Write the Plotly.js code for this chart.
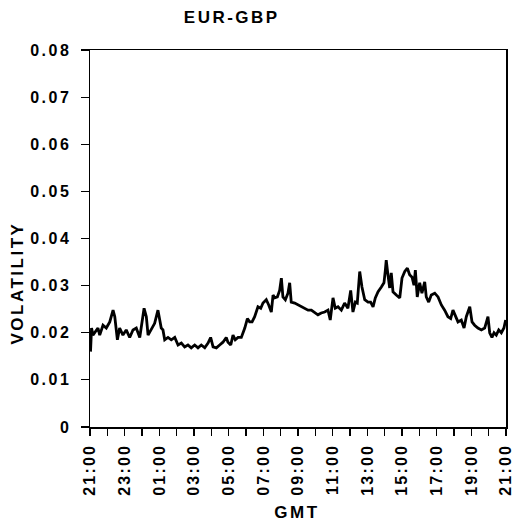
<!DOCTYPE html>
<html>
<head>
<meta charset="utf-8">
<script src="https://cdn.plot.ly/plotly-3.0.1.min.js"></script>
<style>
  html, body { margin: 0; padding: 0; background: #fff; }
  #chart { width: 515px; height: 522px; }
  .main-svg text { letter-spacing: 2.5px; }
  .main-svg .xtick text { letter-spacing: 2.2px; }
</style>
</head>
<body>
<div id="chart"></div>
<script>
// Hours elapsed since 21:00 GMT
var hoursFromStart = [
  0.03, 0.09, 0.17, 0.27, 0.46, 0.56, 0.75, 0.94, 1.14, 1.33, 1.43, 1.58, 1.71, 1.90,
  2.09, 2.29, 2.48, 2.67, 2.87, 3.12, 3.25, 3.35, 3.54, 3.73, 3.92, 4.11, 4.21, 4.31,
  4.50, 4.69, 4.89, 5.08, 5.27, 5.46, 5.65, 5.84, 6.04, 6.23, 6.42, 6.62, 6.81, 6.96,
  7.10, 7.29, 7.48, 7.67, 7.86, 7.96, 8.12, 8.25, 8.38, 8.54, 8.73, 8.93, 9.08, 9.21,
  9.35, 9.50, 9.69, 9.85, 9.98, 10.17, 10.31, 10.46, 10.56, 10.66, 10.81, 10.94, 11.04,
  11.13, 11.27, 11.42, 11.52, 11.61, 11.81, 12.00, 12.19, 12.39, 12.58, 12.77, 12.96,
  13.15, 13.34, 13.54, 13.73, 13.86, 14.02, 14.15, 14.31, 14.50, 14.69, 14.88, 15.04,
  15.17, 15.31, 15.42, 15.56, 15.69, 15.85, 16.04, 16.19, 16.33, 16.46, 16.62, 16.81,
  16.96, 17.04, 17.09, 17.19, 17.29, 17.38, 17.48, 17.67, 17.87, 18.00, 18.16, 18.31,
  18.44, 18.58, 18.69, 18.77, 18.88, 19.02, 19.15, 19.31, 19.40, 19.54, 19.69, 19.89,
  20.08, 20.27, 20.46, 20.65, 20.81, 20.94, 21.08, 21.23, 21.42, 21.58, 21.71, 21.91,
  22.04, 22.19, 22.38, 22.58, 22.77, 22.96, 23.06, 23.19, 23.31, 23.44, 23.58, 23.73,
  23.88, 23.98
];

// EUR-GBP intraday volatility
var volatility = [
  0.0160, 0.0210, 0.0195, 0.0200, 0.0210, 0.0195, 0.0216, 0.0210, 0.0223, 0.0248, 0.0234, 0.0185, 0.0210, 0.0195,
  0.0206, 0.0190, 0.0206, 0.0210, 0.0190, 0.0252, 0.0234, 0.0195, 0.0206, 0.0220, 0.0248, 0.0210, 0.0206, 0.0185,
  0.0190, 0.0185, 0.0190, 0.0174, 0.0178, 0.0170, 0.0174, 0.0168, 0.0174, 0.0168, 0.0174, 0.0168, 0.0178, 0.0190,
  0.0170, 0.0168, 0.0174, 0.0180, 0.0190, 0.0180, 0.0174, 0.0195, 0.0185, 0.0190, 0.0190, 0.0210, 0.0230, 0.0223,
  0.0223, 0.0234, 0.0255, 0.0252, 0.0263, 0.0270, 0.0259, 0.0244, 0.0280, 0.0274, 0.0276, 0.0290, 0.0316,
  0.0276, 0.0270, 0.0284, 0.0306, 0.0265, 0.0263, 0.0259, 0.0255, 0.0252, 0.0248, 0.0248, 0.0242,
  0.0238, 0.0242, 0.0244, 0.0248, 0.0227, 0.0274, 0.0252, 0.0255, 0.0248, 0.0263, 0.0252, 0.0290,
  0.0244, 0.0265, 0.0263, 0.0330, 0.0297, 0.0270, 0.0265, 0.0265, 0.0255, 0.0274, 0.0287, 0.0297,
  0.0306, 0.0333, 0.0354, 0.0323, 0.0295, 0.0327, 0.0287, 0.0280, 0.0274, 0.0316, 0.0330, 0.0337,
  0.0323, 0.0318, 0.0301, 0.0333, 0.0276, 0.0306, 0.0284, 0.0308, 0.0276, 0.0265, 0.0280, 0.0284,
  0.0276, 0.0259, 0.0248, 0.0234, 0.0230, 0.0248, 0.0234, 0.0223, 0.0227, 0.0210, 0.0234, 0.0255,
  0.0223, 0.0216, 0.0210, 0.0206, 0.0210, 0.0234, 0.0200, 0.0190, 0.0200, 0.0195, 0.0206, 0.0200,
  0.0210, 0.0227
];

var timeTickValues = [0, 2, 4, 6, 8, 10, 12, 14, 16, 18, 20, 22, 24];
var timeTickLabels = ['21:00', '23:00', '01:00', '03:00', '05:00', '07:00', '09:00',
                      '11:00', '13:00', '15:00', '17:00', '19:00', '21:00'];
var volTickValues = [0, 0.01, 0.02, 0.03, 0.04, 0.05, 0.06, 0.07, 0.08];
var volTickLabels = ['0', '0.01', '0.02', '0.03', '0.04', '0.05', '0.06', '0.07', '0.08'];

var fontFamily = '"Liberation Sans", Arial, sans-serif';

var trace = {
  x: hoursFromStart,
  y: volatility,
  type: 'scatter',
  mode: 'lines',
  line: { color: '#000', width: 2.8 },
  hoverinfo: 'skip'
};

var layout = {
  width: 515,
  height: 522,
  margin: { l: 90, r: 9, t: 50, b: 95 },
  paper_bgcolor: '#fff',
  plot_bgcolor: '#fff',
  showlegend: false,
  font: { family: fontFamily, color: '#000', size: 16, weight: 'bold' },
  title: {
    text: '<b>EUR-GBP</b>',
    font: { family: fontFamily, size: 17, color: '#000' },
    xref: 'container', x: 0.45, xanchor: 'center',
    yref: 'container', y: 0.967, yanchor: 'middle'
  },
  xaxis: {
    range: [0, 24],
    tickmode: 'array',
    tickvals: timeTickValues,
    ticktext: timeTickLabels,
    tickangle: -90,
    ticks: 'outside',
    ticklen: 7,
    tickwidth: 1.2,
    tickcolor: '#000',
    ticklabelstandoff: 2,
    ticklabeloverflow: 'allow',
    minor: { tickmode: 'linear', tick0: 0, dtick: 1, ticks: 'outside', ticklen: 7, tickwidth: 1.2, tickcolor: '#000' },
    showline: true,
    linecolor: '#000',
    linewidth: 1.5,
    mirror: true,
    showgrid: false,
    zeroline: false,
    tickfont: { family: fontFamily, size: 16, color: '#000', weight: 'bold' }
  },
  yaxis: {
    range: [0, 0.08],
    tickmode: 'array',
    tickvals: volTickValues,
    ticktext: volTickLabels,
    ticks: 'outside',
    ticklen: 8,
    tickwidth: 1.2,
    tickcolor: '#000',
    ticklabelstandoff: 6,
    showline: true,
    linecolor: '#000',
    linewidth: 1.5,
    mirror: true,
    showgrid: false,
    zeroline: false,
    tickfont: { family: fontFamily, size: 16, color: '#000', weight: 'bold' }
  },
  annotations: [{
    text: '<b>VOLATILITY</b>',
    xref: 'paper', x: -0.173, xanchor: 'center',
    yref: 'paper', y: 0.382, yanchor: 'middle',
    textangle: -90,
    showarrow: false,
    font: { family: fontFamily, size: 17, color: '#000' }
  }, {
    text: '<b>GMT</b>',
    xref: 'paper', x: 0.497, xanchor: 'center',
    yref: 'paper', y: -0.228, yanchor: 'middle',
    showarrow: false,
    font: { family: fontFamily, size: 17, color: '#000' }
  }]
};

Plotly.newPlot('chart', [trace], layout, { displayModeBar: false, staticPlot: true });
</script>
</body>
</html>
